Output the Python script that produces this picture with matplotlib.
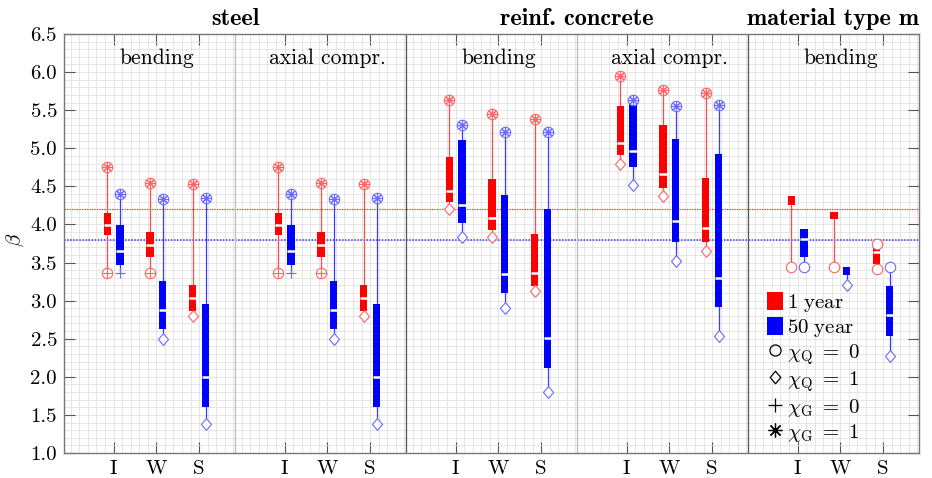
import numpy as np
import matplotlib
matplotlib.use('Agg')
import matplotlib.pyplot as plt
from matplotlib.patches import Patch
from matplotlib.lines import Line2D
from matplotlib.path import Path

plt.rcParams['font.family'] = 'cmr10'
plt.rcParams['mathtext.fontset'] = 'cm'
plt.rcParams['axes.unicode_minus'] = False
plt.rcParams['axes.formatter.use_mathtext'] = True

# ---- data -------------------------------------------------------------
materials = ['steel', 'reinf. concrete', 'material type m']
material_x = [4.0, 12.0, 18.0]
panels = ['bending', 'axial compr.', 'bending', 'axial compr.', 'bending']
cats = ['I', 'W', 'S']
nan = np.nan

# 1 year reference period
max_1 = [4.76, 4.55, 4.53, 4.76, 4.55, 4.53, 5.63, 5.45, 5.39, 5.95, 5.77, 5.73, nan, nan, 3.75]
q3_1 = [4.15, 3.90, 3.21, 4.15, 3.90, 3.21, 4.88, 4.60, 3.87, 5.55, 5.31, 4.61, 4.37, 4.17, 3.69]
med_1 = [3.99, 3.73, 3.03, 3.99, 3.73, 3.03, 4.44, 4.09, 3.36, 5.07, 4.66, 3.96, nan, nan, 3.64]
q1_1 = [3.86, 3.57, 2.86, 3.86, 3.57, 2.86, 4.29, 3.93, 3.19, 4.91, 4.48, 3.77, 4.25, 4.07, 3.48]
min_1 = [3.36, 3.36, 2.80, 3.36, 3.36, 2.80, 4.20, 3.84, 3.12, 4.80, 4.37, 3.65, 3.44, 3.44, 3.42]
top_1 = ['Q0G1'] * 12 + [None, None, 'Q0']
bot_1 = ['Q0G0', 'Q0G0', 'Q1', 'Q0G0', 'Q0G0', 'Q1'] + ['Q1'] * 6 + ['Q0', 'Q0', 'Q0']

# 50 year reference period
max_50 = [4.40, 4.34, 4.35, 4.40, 4.34, 4.35, 5.31, 5.22, 5.22, 5.63, 5.56, 5.57, nan, nan, 3.44]
q3_50 = [3.99, 3.26, 2.96, 3.99, 3.26, 2.96, 5.11, 4.39, 4.20, 5.59, 5.12, 4.93, 3.94, 3.44, 3.19]
med_50 = [3.65, 2.88, 2.00, 3.65, 2.88, 2.00, 4.26, 3.35, 2.51, 4.96, 4.04, 3.30, 3.81, nan, 2.81]
q1_50 = [3.47, 2.63, 1.60, 3.47, 2.63, 1.60, 4.02, 3.10, 2.11, 4.75, 3.77, 2.92, 3.57, 3.34, 2.53]
min_50 = [3.36, 2.50, 1.38, 3.36, 2.50, 1.38, 3.84, 2.90, 1.80, 4.52, 3.52, 2.54, 3.44, 3.20, 2.27]
top_50 = ['Q0G1'] * 12 + [None, None, 'Q0']
bot_50 = ['G0', 'Q1', 'Q1', 'G0', 'Q1', 'Q1'] + ['Q1'] * 6 + ['Q0', 'Q1', 'Q1']

beta_target_1 = 4.2
beta_target_50 = 3.8

# ---- figure -------------------------------------------------------------
fig = plt.figure(figsize=(9.32, 4.78), dpi=100)
ax = fig.add_axes([64 / 932, 25 / 478, 855 / 932, 419 / 478])

diamond = Path([(0, 1), (0.85, 0), (0, -1), (-0.85, 0), (0, 1)],
               [Path.MOVETO, Path.LINETO, Path.LINETO, Path.LINETO, Path.CLOSEPOLY])
asterisk = (8, 2, 0)

def draw_marker(x, y, code, color):
    if code is None or np.isnan(y):
        return
    if 'Q0' in code:
        ax.plot(x, y, marker='o', ms=7.5, mfc='white', mec=color, mew=0.8, zorder=5)
    if 'Q1' in code:
        ax.plot(x, y, marker=diamond, ms=8.5, mfc='white', mec=color, mew=0.8, zorder=5)
    if 'G0' in code:
        ax.plot(x, y, marker='+', ms=7.5, mec=color, mew=0.8, zorder=6)
    if 'G1' in code:
        ax.plot(x, y, marker=asterisk, ms=7.5, mec=color, mew=0.8, zorder=6)

def draw_boxes(xs, vmax, q3, med, q1, vmin, top, bot, color, wcolor, mcolor):
    w = 0.17
    for i, x in enumerate(xs):
        hi = vmax[i] if not np.isnan(vmax[i]) else q3[i]
        ax.plot([x, x], [vmin[i], hi], color=wcolor, lw=0.9, zorder=2.5)
        ax.bar(x, q3[i] - q1[i], bottom=q1[i], width=w, color=color, zorder=3)
        if not np.isnan(med[i]):
            ax.plot([x - w / 2, x + w / 2], [med[i], med[i]], color='white', lw=1.8,
                    solid_capstyle='butt', zorder=4)
        draw_marker(x, vmax[i], top[i], mcolor)
        draw_marker(x, vmin[i], bot[i], mcolor)

base = np.array([4 * (i // 3) + 1.16 + (i % 3) for i in range(15)])
draw_boxes(base - 0.15, max_1, q3_1, med_1, q1_1, min_1, top_1, bot_1,
           '#ff0000', '#ff4a4a', '#ff6464')
draw_boxes(base + 0.15, max_50, q3_50, med_50, q1_50, min_50, top_50, bot_50,
           '#0000ff', '#3a3aff', '#6a6aff')

ax.axhline(beta_target_1, color='#ff3030', lw=0.9, ls=(0, (1, 1)), zorder=2)
ax.axhline(beta_target_50, color='#3030ff', lw=1.1, ls=(0, (1, 1)), zorder=2)

# panel separators
for xs, c in [(4, '#bdbdbd'), (8, '#555555'), (12, '#bdbdbd'), (16, '#555555')]:
    ax.axvline(xs, color=c, lw=0.9, zorder=2)

ax.set_xlim(0, 20)
ax.set_ylim(1.0, 6.5)
ax.set_xticks(base)
ax.set_xticklabels(cats * 5, fontsize=15)
yt = np.arange(1.0, 6.51, 0.5)
ax.set_yticks(yt)
ax.set_yticklabels([f'{v:.1f}' for v in yt], fontsize=15)
ax.set_xticks(np.arange(0.16, 20, 0.2), minor=True)
ax.set_yticks(np.arange(1.0, 6.51, 0.1), minor=True)
ax.tick_params(which='major', direction='in', length=8, width=0.8, color='#555555',
               top=True, right=True, pad=5)
ax.tick_params(which='minor', length=0)
ax.grid(which='both', color='#e2e2e2', lw=0.6, zorder=0)
ax.set_axisbelow(True)
for s in ax.spines.values():
    s.set_color('#777777')
    s.set_linewidth(1.0)

for i, p in enumerate(panels):
    ax.text(4 * i + 2.16, 6.11, p, ha='center', va='baseline', fontsize=15.5)
for m, mx in zip(materials, material_x):
    ax.text(mx, 1.036, m, transform=ax.get_xaxis_transform(), ha='center', va='center',
            fontsize=17.5, family='cmb10')

fig.text(15 / 932, 1 - 240 / 478, r'$\beta$', rotation=90, ha='center', va='center', fontsize=15)

handles = [
    Patch(facecolor='#ff0000', edgecolor='none', label=r'$\mathrm{1\ year}$'),
    Patch(facecolor='#0000ff', edgecolor='none', label=r'$\mathrm{50\ year}$'),
    Line2D([], [], ls='none', marker='o', ms=8, mfc='none', mec='k', mew=0.9,
           label=r'$\chi_{\mathrm{Q}}\ =\ 0$'),
    Line2D([], [], ls='none', marker=diamond, ms=9, mfc='none', mec='k', mew=0.9,
           label=r'$\chi_{\mathrm{Q}}\ =\ 1$'),
    Line2D([], [], ls='none', marker='+', ms=10, mec='k', mew=0.9,
           label=r'$\chi_{\mathrm{G}}\ =\ 0$'),
    Line2D([], [], ls='none', marker=asterisk, ms=10, mec='k', mew=0.9,
           label=r'$\chi_{\mathrm{G}}\ =\ 1$'),
]
ax.legend(handles=handles, loc='upper left', bbox_to_anchor=(0.822, 0.385), frameon=False,
          fontsize=15, handlelength=0.8, handleheight=1.0, handletextpad=0.15,
          labelspacing=0.12, borderpad=0, borderaxespad=0)

fig.savefig('out.png', dpi=100)
